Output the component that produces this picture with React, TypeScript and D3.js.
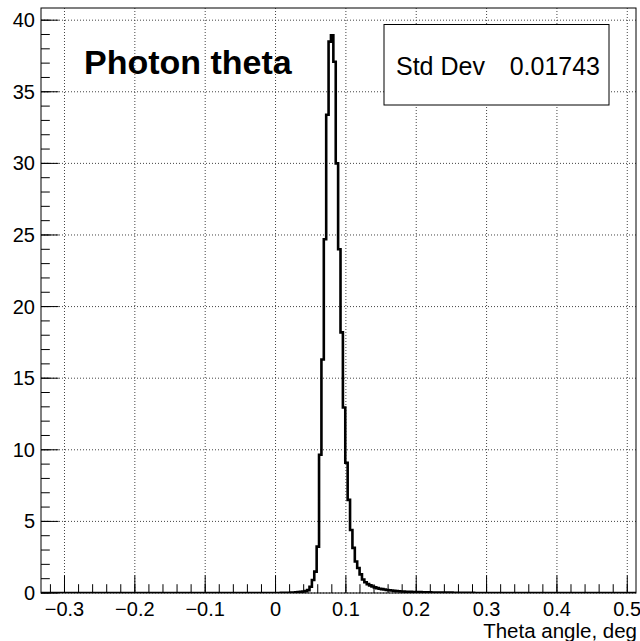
import React from "react";
import * as d3 from "d3";

// Axis ranges
const xDomain = [-0.3334, 0.5124];
const yDomain = [0, 40.85];

// Tick values
const xMajorTicks = [-0.3, -0.2, -0.1, 0, 0.1, 0.2, 0.3, 0.4, 0.5];
const yMajorTicks = [0, 5, 10, 15, 20, 25, 30, 35, 40];

// Histogram (bins with non-zero content)
const binStart = 0.0076;
const binWidth = 0.00339;
const counts = [
  0.01, 0.01, 0.02, 0.02, 0.03, 0.04, 0.05, 0.06, 0.08, 0.1, 0.13, 0.2,
  0.44, 0.91, 1.49, 3.24, 9.65, 16.3, 24.7, 33.4, 38.5, 38.95, 37.1, 30.0,
  24.0, 18.2, 12.95, 9.1, 6.5, 4.4, 3.15, 2.2, 1.75, 1.3, 0.94,
  0.75, 0.62, 0.53, 0.45, 0.39, 0.34, 0.3, 0.27, 0.24, 0.21, 0.19, 0.17,
  0.15, 0.13, 0.12, 0.11, 0.1, 0.09, 0.085, 0.08, 0.075, 0.07, 0.065, 0.06,
  0.055, 0.05, 0.05, 0.045, 0.04, 0.04, 0.035, 0.035, 0.03, 0.03, 0.03,
  0.025, 0.025, 0.02, 0.02, 0.02, 0.02, 0.015, 0.015, 0.01, 0.01, 0.01,
];

const titleText = "Photon theta";
const xAxisTitle = "Theta angle, deg";
const statsLabel = "Std Dev";
const statsValue = "0.01743";

const FONT = "'Liberation Sans', Arial, Helvetica, sans-serif";

export default function App() {
  const left = 41, right = 636, top = 8, bottom = 593;
  const x = d3.scaleLinear().domain(xDomain).range([left, right]);
  const y = d3.scaleLinear().domain(yDomain).range([bottom, top]);

  const xMinor: number[] = [];
  for (let v = -0.32; v <= 0.5001; v += 0.02) xMinor.push(+v.toFixed(3));
  const yMinor: number[] = [];
  for (let v = 0; v <= 40; v += 1) yMinor.push(v);

  const pts: [number, number][] = [];
  pts.push([xDomain[0], 0]);
  pts.push([binStart, 0]);
  counts.forEach((c, i) => {
    const xl = binStart + i * binWidth;
    pts.push([xl, c]);
    pts.push([xl + binWidth, c]);
  });
  pts.push([binStart + counts.length * binWidth, 0]);
  pts.push([xDomain[1], 0]);
  const line = d3
    .line<[number, number]>()
    .x((d) => x(d[0]))
    .y((d) => y(d[1]));

  const fmtX = d3.format(".1f");
  const xLabel = (v: number) => (v === 0 ? "0" : fmtX(v));

  const majLen = 17.6;
  const minLen = 8.8;

  return (
    <svg
      width={640}
      height={641}
      style={{ position: "absolute", left: 0, top: 0, background: "#fff" }}
      fontFamily={FONT}
    >
      <rect x={0} y={0} width={640} height={641} fill="#fff" />
      <defs>
        <clipPath id="frame">
          <rect x={left} y={top} width={right - left} height={bottom - top} />
        </clipPath>
      </defs>
      {/* grid */}
      <g stroke="#444" strokeWidth={1} strokeDasharray="1 2">
        {xMajorTicks.map((v) => (
          <line key={"gx" + v} x1={x(v)} x2={x(v)} y1={top} y2={bottom} />
        ))}
        {yMajorTicks.map((v) => (
          <line key={"gy" + v} x1={left} x2={right} y1={y(v)} y2={y(v)} />
        ))}
      </g>
      {/* title text */}
      <text x={84} y={73.5} fontSize={34} fontWeight="bold" fill="#000">
        {titleText}
      </text>
      {/* histogram */}
      <path
        d={line(pts) || ""}
        fill="none"
        stroke="#000"
        strokeWidth={2.6}
        strokeLinejoin="miter"
        clipPath="url(#frame)"
      />
      {/* frame */}
      <rect
        x={left}
        y={top}
        width={right - left}
        height={bottom - top}
        fill="none"
        stroke="#000"
        strokeWidth={1}
      />
      {/* x ticks */}
      <g stroke="#000" strokeWidth={1}>
        {xMinor.map((v) => (
          <line key={"xm" + v} x1={x(v)} x2={x(v)} y1={bottom} y2={bottom - minLen} />
        ))}
        {xMajorTicks.map((v) => (
          <line key={"xM" + v} x1={x(v)} x2={x(v)} y1={bottom} y2={bottom - majLen} />
        ))}
        {yMinor.map((v) => (
          <line key={"ym" + v} x1={left} x2={left + minLen} y1={y(v)} y2={y(v)} />
        ))}
        {yMajorTicks.map((v) => (
          <line key={"yM" + v} x1={left} x2={left + majLen} y1={y(v)} y2={y(v)} />
        ))}
      </g>
      {/* x labels */}
      {xMajorTicks.map((v) => (
        <text key={"xl" + v} x={x(v)} y={616} fontSize={20} textAnchor="middle" fill="#000">
          {xLabel(v)}
        </text>
      ))}
      {/* y labels */}
      {yMajorTicks.map((v) => (
        <text key={"yl" + v} x={35} y={y(v) + 7} fontSize={20} textAnchor="end" fill="#000">
          {v}
        </text>
      ))}
      {/* x axis title */}
      <text x={637} y={638} fontSize={20.5} textAnchor="end" fill="#000">
        {xAxisTitle}
      </text>
      {/* stats box */}
      <rect x={384} y={24.5} width={225} height={80.5} fill="#fff" stroke="#000" strokeWidth={1} />
      <text x={396} y={75} fontSize={25} fill="#000">
        {statsLabel}
      </text>
      <text x={600} y={75} fontSize={25} textAnchor="end" fill="#000">
        {statsValue}
      </text>
    </svg>
  );
}
